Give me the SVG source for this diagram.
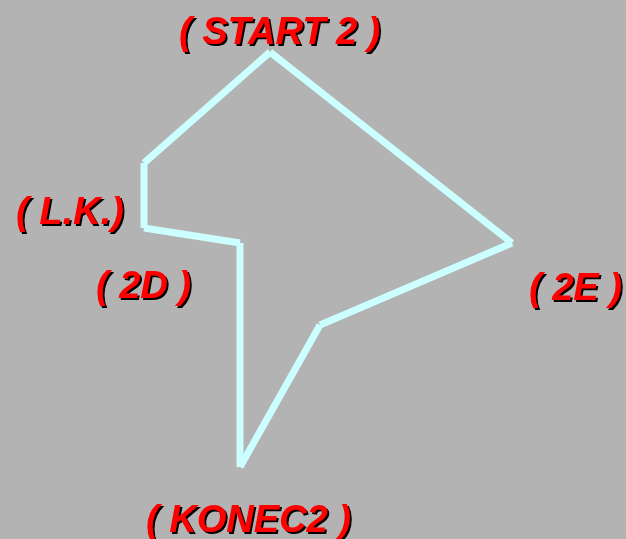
<svg xmlns="http://www.w3.org/2000/svg" width="626" height="539" viewBox="0 0 626 539">
<defs>
<filter id="shadow" x="-5%" y="-10%" width="110%" height="130%">
<feOffset in="SourceAlpha" dx="1.5" dy="1.5" result="o"/>
<feFlood flood-color="#000"/>
<feComposite in2="o" operator="in" result="s"/>
<feMerge><feMergeNode in="s"/><feMergeNode in="SourceGraphic"/></feMerge>
</filter>
</defs>
<style>
.lbl{font-family:"Liberation Sans",Arial,sans-serif;font-weight:bold;font-style:italic;font-size:38px;fill:#ff0000;filter:url(#shadow)}
.edge{stroke:#ccffff;stroke-width:7;stroke-linecap:butt;fill:none}
</style>
<rect width="626" height="539" fill="#b3b3b3"/>
<g id="connectors">
<line class="edge" x1="270" y1="52" x2="144" y2="163"/>
<line class="edge" x1="144" y1="163" x2="144" y2="228"/>
<line class="edge" x1="144" y1="228" x2="240" y2="243"/>
<line class="edge" x1="240" y1="243" x2="240" y2="467"/>
<line class="edge" x1="240" y1="467" x2="320" y2="325"/>
<line class="edge" x1="320" y1="325" x2="512" y2="243"/>
<line class="edge" x1="512" y1="243" x2="270" y2="52"/>
</g>
<g id="start2"><text class="lbl" x="179" y="44">( START 2 )</text></g>
<g id="lk"><text class="lbl" x="16" y="224">( L.K.)</text></g>
<g id="n2d"><text class="lbl" x="96" y="298">( 2D )</text></g>
<g id="n2e"><text class="lbl" x="529" y="300">( 2E )</text></g>
<g id="konec2"><text class="lbl" x="146" y="532">( KONEC2 )</text></g>
</svg>
